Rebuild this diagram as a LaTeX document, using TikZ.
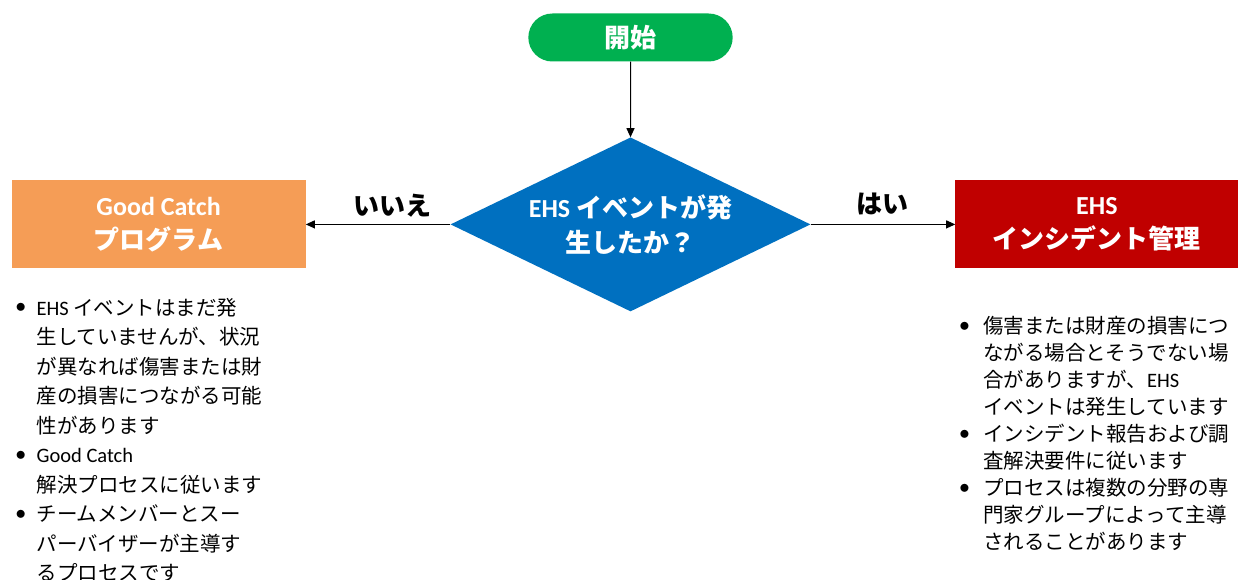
\documentclass[tikz,border=0pt]{standalone}
\usepackage{fontspec}
\setmainfont{Noto Sans CJK JP}
\newfontfamily\lat{Carlito}
\usepackage{tikz}
\usetikzlibrary{shapes.geometric}
\usetikzlibrary{shapes.misc}
\usetikzlibrary{arrows.meta}
\usetikzlibrary{positioning}
\definecolor{startgreen}{HTML}{00B050}
\definecolor{eventblue}{HTML}{0070C0}
\definecolor{catchorange}{HTML}{F59D56}
\definecolor{incidentred}{HTML}{C00000}
\newcommand{\bul}{\raisebox{2.5pt}{$\bullet$}}
\tikzset{
    terminal/.style={
           rounded rectangle,
           fill=startgreen,
           minimum width=211pt, minimum height=48pt,
           text=white, font=\bfseries\fontsize{26}{35}\selectfont,
           },
    decision/.style={
           diamond, aspect=2.07,
           fill=eventblue,
           minimum width=360pt, minimum height=174pt,
           inner sep=0pt, align=center,
           text=white, font=\bfseries\fontsize{26}{35}\selectfont,
           },
    outcome/.style={
           rectangle,
           minimum height=88pt,
           align=center,
           text=white, font=\bfseries\fontsize{26}{34}\selectfont,
           },
    answer/.style={
           inner sep=0pt, text height=22.9pt, text depth=3.1pt,
           font=\bfseries\fontsize{26}{30}\selectfont,
           },
    notes/.style={inner sep=0pt, align=left},
    flow/.style={-{Triangle[length=9pt,width=8pt]}, line width=1pt},
}
\begin{document}
\begin{tikzpicture}[x=1pt,y=1pt]
    \useasboundingbox (0,0) rectangle (1238,-580);
    \node[terminal] (start) at (630.5,-37.5) {開始};
    \node[decision] (event) [below=75.5pt of start] {{\lat EHS} イベントが発\\生したか？};
    \node[outcome,fill=catchorange,minimum width=294pt] (program) [left=144.5pt of event] {{\lat Good Catch}\\プログラム};
    \node[outcome,fill=incidentred,minimum width=283pt] (incident) [right=144.5pt of event] {{\lat EHS}\\インシデント管理};
    % notes under the two outcomes
    \node[notes,font=\fontsize{20.5}{29.5}\selectfont] (noteL) [below right=26pt and 4pt of program.south west]
    {\begin{tabular}{@{}p{21pt}@{}l@{}}
    \bul & {\lat EHS} イベントはまだ発\\
         & 生していませんが、状況\\
         & が異なれば傷害または財\\
         & 産の損害につながる可能\\
         & 性があります\\
    \bul & {\lat Good Catch}\\
         & 解決プロセスに従います\\
    \bul & チームメンバーとスー\\
         & パーバイザーが主導す\\
         & るプロセスです
    \end{tabular}};
    \node[notes,font=\fontsize{20.5}{27}\selectfont] (noteR) [below right=46pt and 4pt of incident.south west]
    {\begin{tabular}{@{}p{24pt}@{}l@{}}
    \bul & 傷害または財産の損害につ\\
         & ながる場合とそうでない場\\
         & 合がありますが、{\lat EHS}\\
         & イベントは発生しています\\
    \bul & インシデント報告および調\\
         & 査解決要件に従います\\
    \bul & プロセスは複数の分野の専\\
         & 門家グループによって主導\\
         & されることがあります
    \end{tabular}};
    \draw[flow] (start) -- (event);
    \draw[flow] (event) -- node[answer,pos=0.4,yshift=19pt] {いいえ} (program);
    \draw[flow] (event) -- node[answer,pos=0.5,yshift=21pt] {はい} (incident);
\end{tikzpicture}
\end{document}
